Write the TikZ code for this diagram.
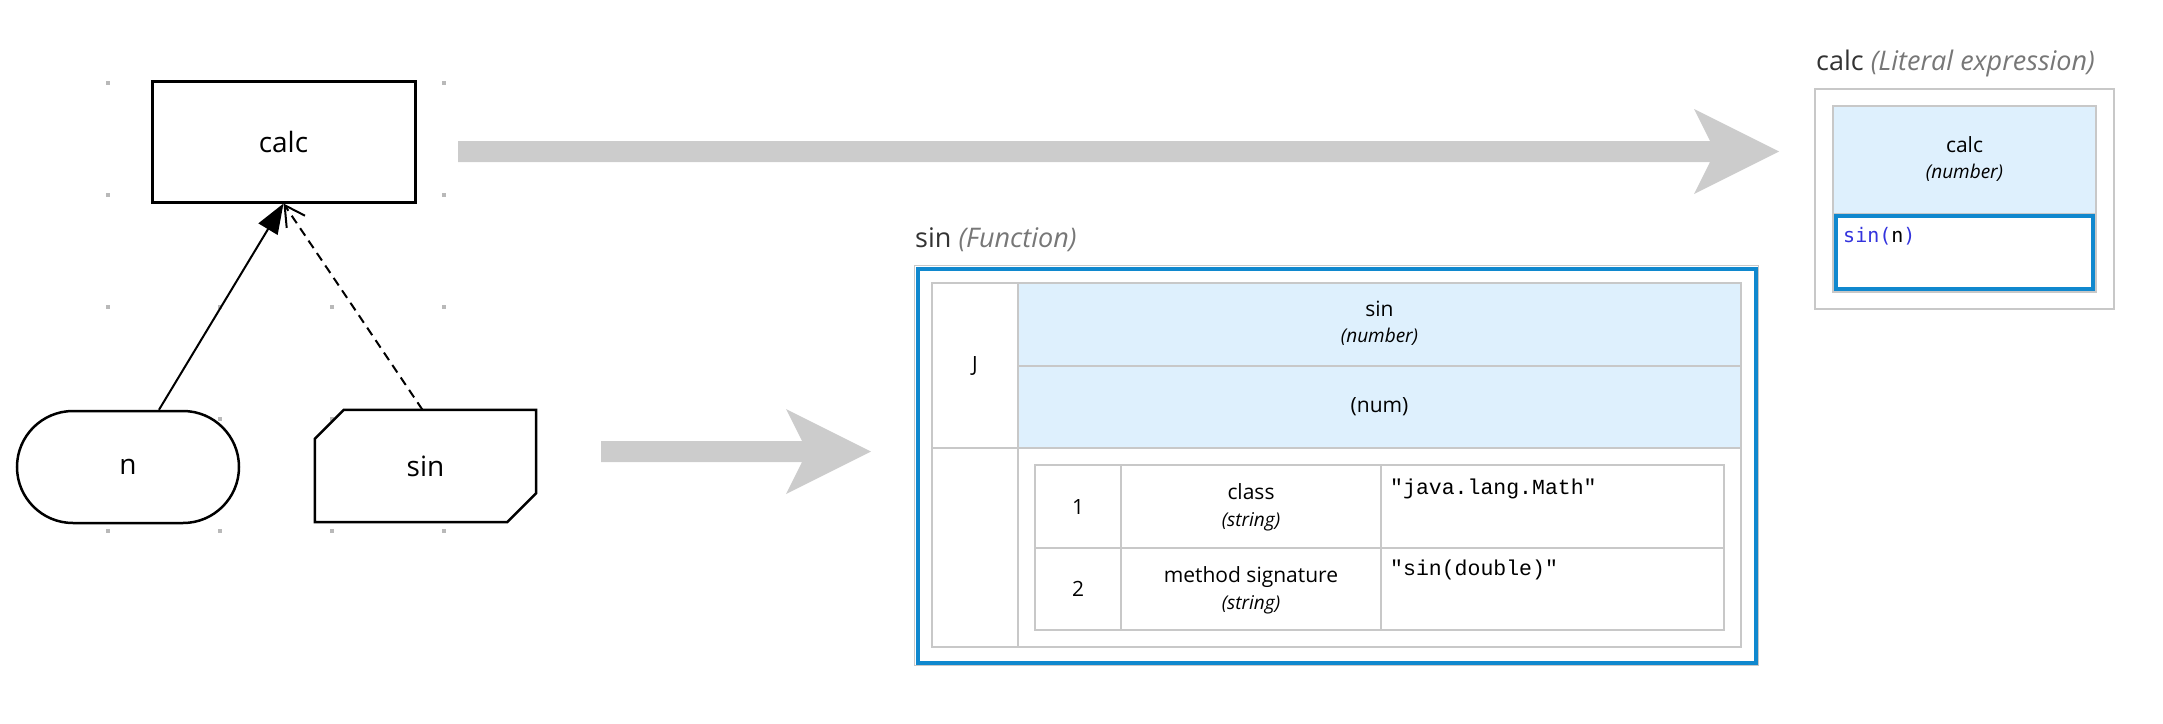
\documentclass[tikz,border=0pt]{standalone}
\usepackage{fontspec}
\setmainfont{Open Sans}
\setmonofont{Liberation Mono}
\newfontfamily\codefont{DejaVu Sans Mono}
\usetikzlibrary{arrows.meta}

\definecolor{linegray}{RGB}{200,200,200}
\definecolor{flowgray}{RGB}{204,204,204}
\definecolor{dotgray}{RGB}{185,185,185}
\definecolor{headblue}{RGB}{222,240,253}
\definecolor{selblue}{RGB}{16,136,206}
\definecolor{typegray}{RGB}{119,119,119}
\definecolor{titledark}{RGB}{51,51,51}
\definecolor{codeblue}{RGB}{51,51,221}

\newcommand{\shapefont}{\fontsize{28}{34}\selectfont}
\newcommand{\titlefont}{\fontsize{27}{32}\selectfont}
\newcommand{\cellfont}{\fontsize{21}{26}\selectfont}
\newcommand{\typefont}{\fontsize{19}{23}\selectfont\itshape}
\newcommand{\valuefont}{\fontsize{21.5}{26}\selectfont\ttfamily}

\tikzset{
  drd/.style={draw, fill=white, line width=2.5pt, font=\shapefont, inner sep=0pt},
  dep/.style={line width=2pt},
  cell/.style={draw=linegray, line width=2pt, anchor=north west, inner sep=0pt, outer sep=0pt, font=\cellfont},
  hdrcell/.style={cell, fill=headblue},
  celltext/.style={font=\cellfont, inner sep=0pt, anchor=base},
  typetext/.style={font=\typefont, inner sep=0pt, anchor=base},
  valuetext/.style={font=\valuefont, inner sep=0pt, anchor=base west},
  boxtitle/.style={font=\titlefont, text=titledark, inner sep=0pt, anchor=base west},
}

\begin{document}
\begin{tikzpicture}[x=1pt, y=-1pt]
    \useasboundingbox (0,0) rectangle (2163,723);

    %% DRD
    % Grid dots
    \foreach \gx in {108,220,332,444}
        \foreach \gy in {83,195,307,419,531}
            \fill[dotgray] (\gx-2,\gy-2) rectangle (\gx+2,\gy+2);

    % Decision
    \node[drd, line width=3pt, minimum width=263pt, minimum height=121pt] (calc) at (283.5,141.5) {calc};

    % Input data
    \node[drd, rounded corners=56pt, minimum width=222pt, minimum height=112pt] (n) at (128,467) {n};

    % Business knowledge model
    \path node[minimum width=221pt, minimum height=112pt, inner sep=0pt] (sinbkm) at (425.5,466) {};
    \filldraw[fill=white, line width=2.5pt] ([xshift=29pt]sinbkm.north west) -- (sinbkm.north east)
        -- ([yshift=29pt]sinbkm.south east) -- ([xshift=-29pt]sinbkm.south east)
        -- (sinbkm.south west) -- ([yshift=-29pt]sinbkm.north west) -- cycle;
    \node[font=\shapefont] (sinlabel) at (sinbkm.center) {sin};

    % Requirements
    \draw[dep, -{Triangle[length=30pt, width=22pt]}] ([xshift=31pt]n.north) -- (calc.south);
    \draw[dep, dash pattern=on 9pt off 6pt, -{Straight Barb[length=20pt, width=22pt]}] ([xshift=-3pt]sinbkm.north) -- (calc.south);

    %% Flow arrows
    % DRD to literal expression
    \fill[flowgray] (458,141) -- (1710,141) -- (1694,109) -- (1779,151.5) -- (1694,194) -- (1710,162) -- (458,162) -- cycle;
    % DRD to function
    \fill[flowgray] (601,441) -- (802,441) -- (786,409) -- (871,451.5) -- (786,494) -- (802,462) -- (601,462) -- cycle;

    %% Function
    \node[boxtitle] (fntitle) at (915,247) {sin \textcolor{typegray}{\itshape (Function)}};
    \draw[linegray, line width=1.5pt] (914.5,265.5) rectangle (1758.5,665.5);
    \draw[selblue, line width=4pt] (918,268.5) rectangle (1755.5,662.5);

    % Outer table
    \node[cell, minimum width=86pt, minimum height=165pt] (kind) at (932,283) {J};
    \node[hdrcell, minimum width=723pt, minimum height=83pt] (outname) at (1018,283) {};
    \node[celltext] (outnametext) at ([yshift=8pt]outname.center) {sin};
    \node[typetext] (outtypetext) at ([yshift=-18pt]outname.center) {(number)};
    \node[hdrcell, minimum width=723pt, minimum height=82pt] (param) at (1018,366) {(num)};
    \node[cell, minimum width=86pt, minimum height=199pt] (rownum) at (932,448) {};
    \node[cell, minimum width=723pt, minimum height=199pt] (body) at (1018,448) {};

    % Context entries
    \node[cell, minimum width=86pt, minimum height=83pt] (idx1) at (1035,465) {1};
    \node[cell, minimum width=260pt, minimum height=83pt] (key1) at (1121,465) {};
    \node[cell, minimum width=343pt, minimum height=83pt] (val1) at (1381,465) {};
    \node[cell, minimum width=86pt, minimum height=82pt] (idx2) at (1035,548) {2};
    \node[cell, minimum width=260pt, minimum height=82pt] (key2) at (1121,548) {};
    \node[cell, minimum width=343pt, minimum height=82pt] (val2) at (1381,548) {};

    \node[celltext] (key1text) at ([yshift=7pt]key1.center) {class};
    \node[typetext] (key1type) at ([yshift=-20pt]key1.center) {(string)};
    \node[celltext] (key2text) at ([yshift=7pt]key2.center) {method signature};
    \node[typetext] (key2type) at ([yshift=-20pt]key2.center) {(string)};
    \node[valuetext] (val1text) at ([shift={(9pt,-29pt)}]val1.north west) {"java.lang.Math"};
    \node[valuetext] (val2text) at ([shift={(9pt,-27pt)}]val2.north west) {"sin(double)"};

    %% Literal expression
    \node[boxtitle] (littitle) at (1816,70) {calc \textcolor{typegray}{\itshape (Literal expression)}};
    \draw[linegray, line width=2pt] (1815,89) rectangle (2114,309);
    \node[hdrcell, minimum width=263pt, minimum height=108pt] (litname) at (1833,106) {};
    \node[celltext] (litnametext) at ([yshift=8pt]litname.center) {calc};
    \node[typetext] (littypetext) at ([yshift=-18pt]litname.center) {(number)};
    \node[cell, minimum width=263pt, minimum height=78pt] (litbody) at (1833,214) {};
    \draw[selblue, line width=4pt] ([shift={(3pt,-2pt)}]litbody.north west) rectangle ([shift={(-3pt,3pt)}]litbody.south east);
    \node[anchor=base west, inner sep=0pt, font={\codefont\fontsize{20}{24}\selectfont}] (littext)
        at ([shift={(10pt,-28pt)}]litbody.north west) {\textcolor{codeblue}{sin(}n\textcolor{codeblue}{)}};

\end{tikzpicture}
\end{document}
